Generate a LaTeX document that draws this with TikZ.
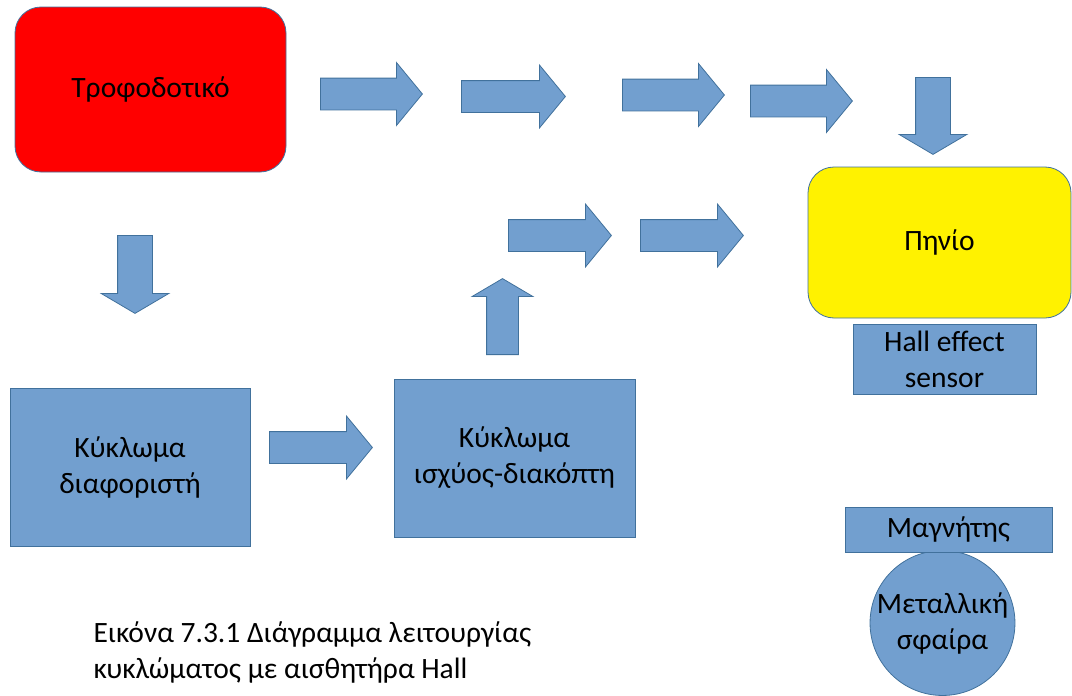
\documentclass[tikz,border=0pt]{standalone}
\usepackage{fontspec}
\setmainfont{Carlito}
\usetikzlibrary{shapes.arrows}
\definecolor{boxblue}{RGB}{114,159,207}
\definecolor{edgeblue}{RGB}{65,113,156}

\begin{document}
\begin{tikzpicture}[x=1pt, y=-1pt,
    txt/.style={font=\fontsize{29.5}{36}\selectfont, align=center, text=black},
    block/.style={rectangle, draw=edgeblue, fill=boxblue, line width=0.8pt, inner sep=0pt, txt},
    rblock/.style={block, rounded corners=26},
    harrow/.style={single arrow, draw=edgeblue, fill=boxblue, line width=0.8pt, inner sep=0pt,
        inner ysep=15.5, single arrow head extend=15.5, single arrow tip angle=101, anchor=tail},
    varrow/.style={harrow, inner ysep=17, single arrow head extend=16.5, single arrow tip angle=119}
]
\useasboundingbox (0,0) rectangle (1072,696);

\node[rblock, fill=red, minimum width=271, minimum height=165] (supply) at (150.5, 89.5) {Τροφοδοτικό};
\node[rblock, fill=yellow, minimum width=263, minimum height=151] (coil) at (939.5, 242.5) {Πηνίο};
\node[block, minimum width=183, minimum height=70] (hall) at (944.5, 359) {Hall effect\\sensor};

\node[block, minimum width=240, minimum height=158] (diff) at (130, 467) {Κύκλωμα\\διαφοριστή};
\node[block, minimum width=241, minimum height=158] (switch) at (514.5, 458) {Κύκλωμα\\ισχύος-διακόπτη};

\node[block, circle, minimum size=144] (ball) at (942.5, 623) {Μεταλλική\\σφαίρα};
\node[block, minimum width=207, minimum height=45] (magnet) at (948.5, 529.5) {Μαγνήτης};

% Block arrows
\foreach \x/\y/\len [count=\i] in {320/94/102, 461/96.5/104, 622/95/102, 750/101/102,
        508/235.5/103, 640/235.5/103, 269/447.5/103}
    \node[harrow, minimum height=\len] (H-\i) at (\x, \y) {};

\node[varrow, rotate=-90, minimum height=77] (V-1) at (933, 77) {};
\node[varrow, rotate=-90, minimum height=78] (V-2) at (135, 235) {};
\node[varrow, rotate=90, minimum height=76, inner ysep=15.5, single arrow head extend=14.5] (V-3) at (502.5, 355) {};

% Caption
\node[txt, align=left, anchor=west] (caption) at (90, 652) {Εικόνα 7.3.1 Διάγραμμα λειτουργίας\\κυκλώματος με αισθητήρα Hall};

\end{tikzpicture}
\end{document}
